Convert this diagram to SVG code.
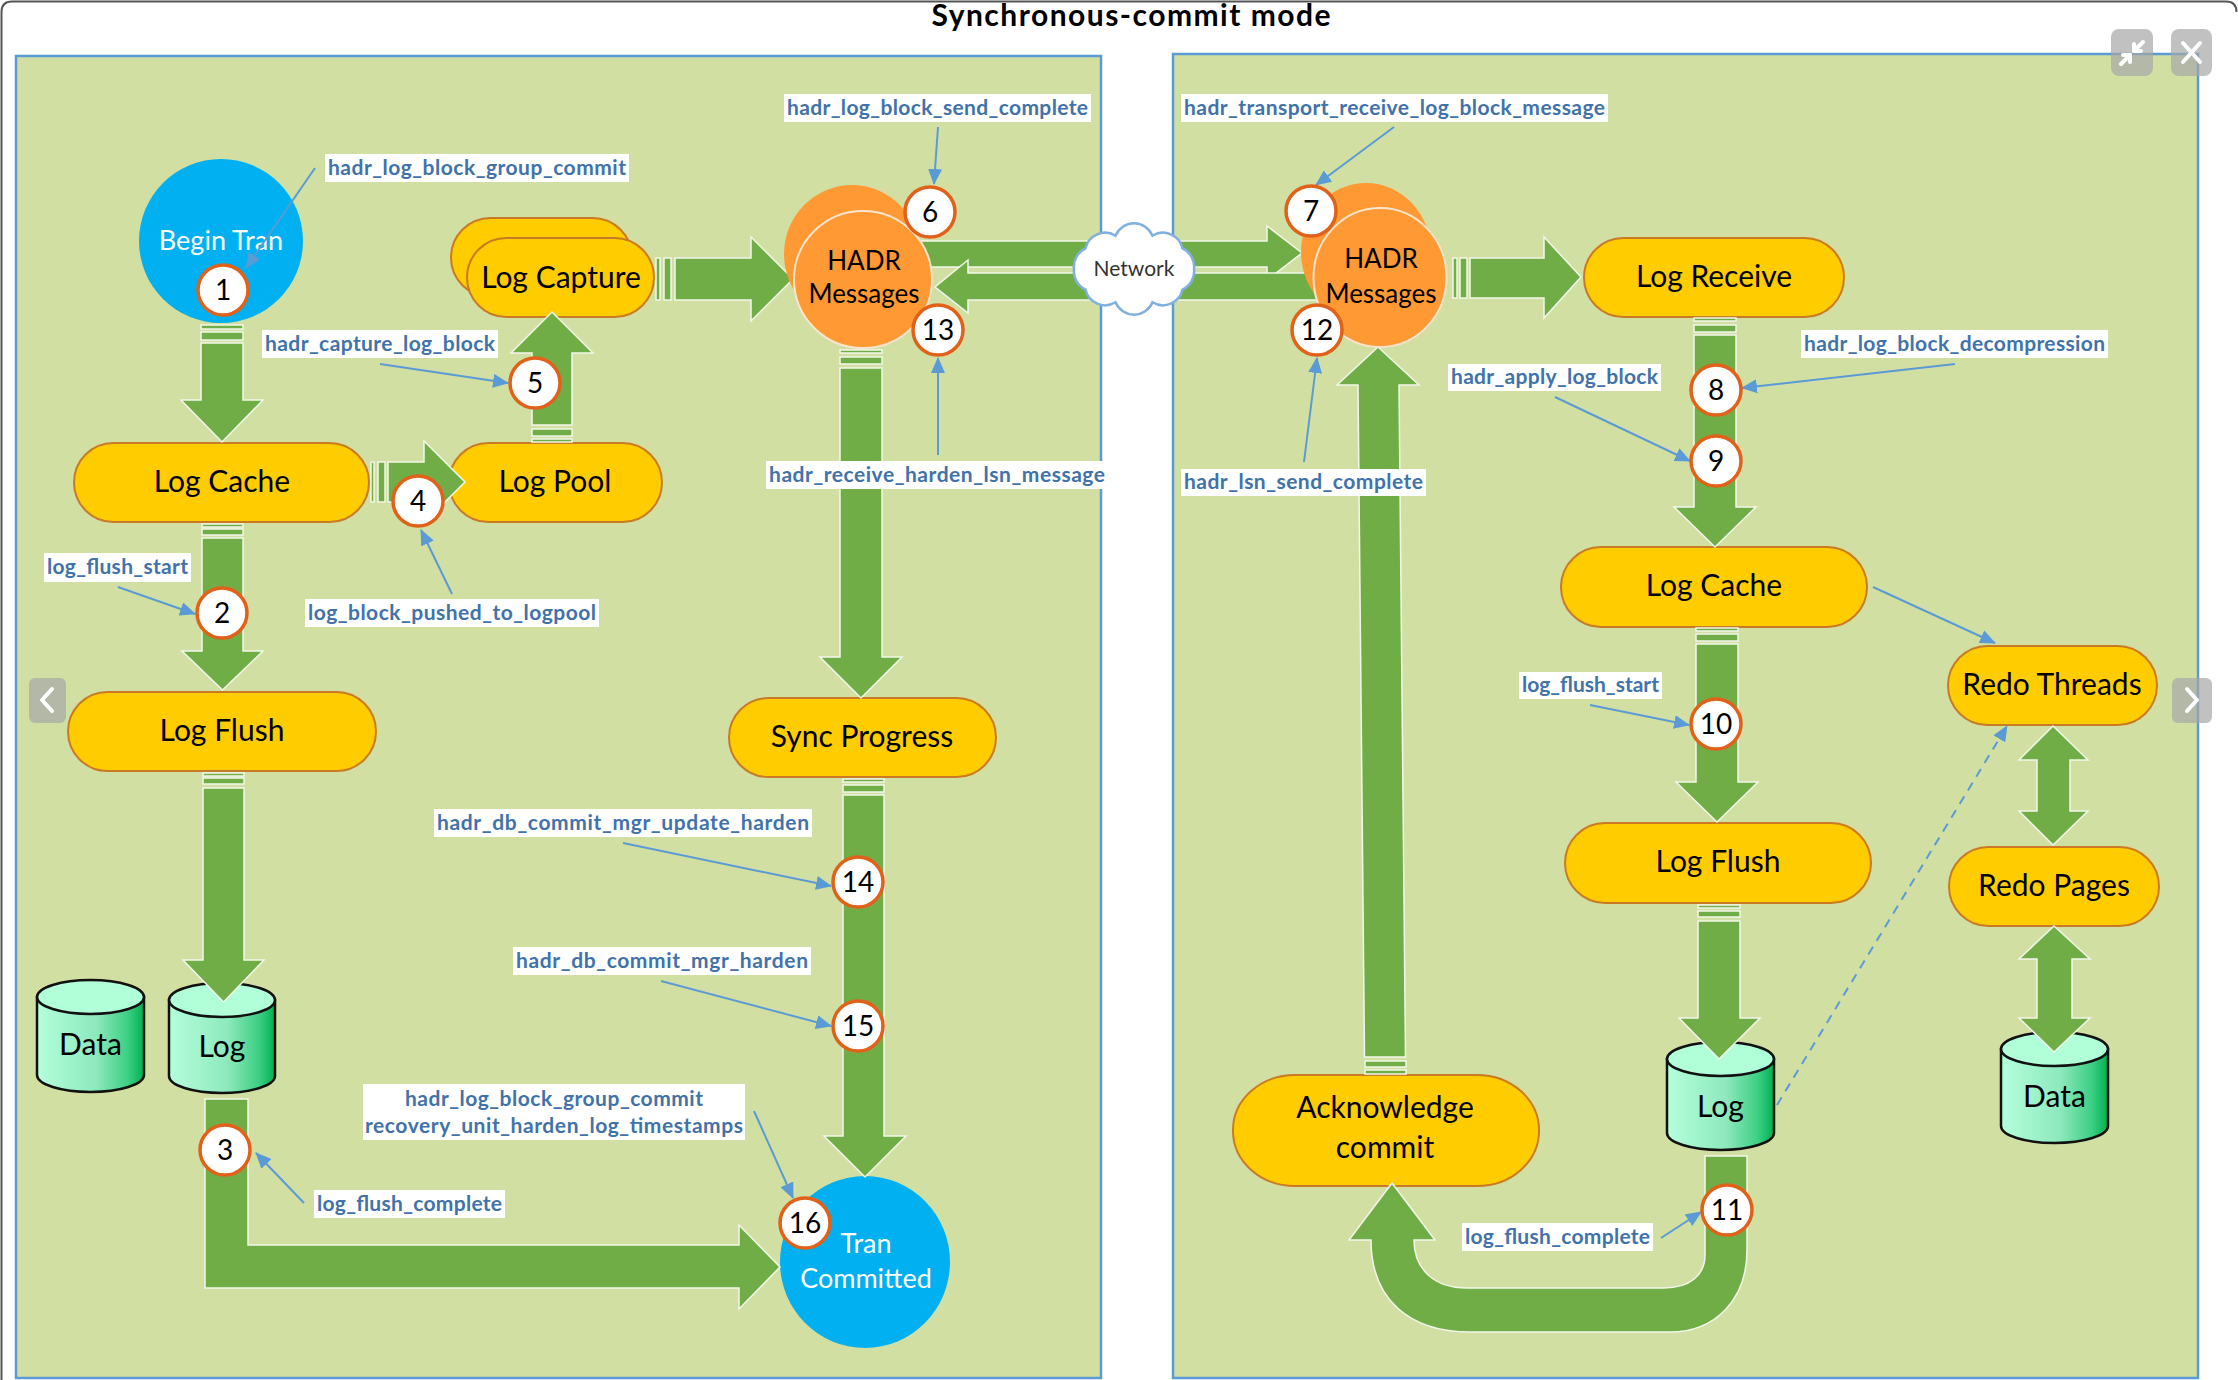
<svg xmlns="http://www.w3.org/2000/svg" width="2238" height="1380" viewBox="0 0 2238 1380">
<defs>
<style>
.panel{fill:#d2dfa3;stroke:#5b9bd5;stroke-width:2.5}
.stad{fill:#ffcc00;stroke:#c97a22;stroke-width:2}
.nt{font-family:Lato,"Liberation Sans",sans-serif;font-size:30px;fill:#000;text-anchor:middle}
.wt{font-family:Lato,"Liberation Sans",sans-serif;font-size:27px;fill:#fff;text-anchor:middle}
.ht{font-family:Lato,"Liberation Sans",sans-serif;font-size:26px;fill:#000;text-anchor:middle}
.arr{fill:#70ad47;stroke:#f2f7ea;stroke-width:1.5}
.lbox{fill:#fff}
.lbl{font-family:Lato,"Liberation Sans",sans-serif;font-weight:bold;font-size:21px;fill:#4172aa;text-anchor:middle}
.co{stroke:#5b9bd5;stroke-width:2;fill:none;marker-end:url(#ah)}
.bc{fill:#fff;stroke:#e2611a;stroke-width:3.5}
.bt{font-family:Lato,"Liberation Sans",sans-serif;font-size:28px;fill:#000;text-anchor:middle}
.cylb{fill:url(#cylg);stroke:#111;stroke-width:2.5}
.cylt{fill:#b0ffd9;stroke:#111;stroke-width:2.5}
.orb{fill:#ff9933}
.orf{fill:#ff9933;stroke:#fde4cc;stroke-width:2}
.blue{fill:#00b0f0}
.btn{fill:#a6a6a6;opacity:0.7}
.ico{stroke:#fff;stroke-width:4;fill:none;stroke-linecap:round;stroke-linejoin:round}
</style>
<marker id="ah" markerUnits="userSpaceOnUse" markerWidth="16" markerHeight="14" refX="15" refY="7" orient="auto">
<path d="M0,0 L16,7 L0,14 Z" fill="#5b9bd5"/>
</marker>
<linearGradient id="cylg" x1="0" y1="0" x2="1" y2="0">
<stop offset="0" stop-color="#b4ffdc"/>
<stop offset="0.55" stop-color="#8ee9bd"/>
<stop offset="0.85" stop-color="#3ccf84"/>
<stop offset="1" stop-color="#00b050"/>
</linearGradient>
</defs>

<rect x="0" y="0" width="2238" height="1380" fill="#fff"/>
<path d="M1.5,1380 L1.5,12 Q1.5,1.5 12,1.5 L2226,1.5 Q2236.5,1.5 2236.5,12" fill="none" stroke="#555" stroke-width="2"/>

<text x="1131" y="26" font-family="Lato,'Liberation Sans',sans-serif" font-weight="bold" font-size="30" text-anchor="middle" textLength="399" fill="#000">Synchronous-commit mode</text>

<g id="panels">
<rect class="panel" x="16" y="56" width="1085" height="1322"/>
<rect class="panel" x="1173" y="54" width="1025" height="1324"/>
</g>

<g id="node-begin-tran">
<ellipse class="blue" cx="221" cy="241" rx="82" ry="82"/>
<text class="wt" x="221" y="250">Begin Tran</text>
</g>
<g id="node-log-capture">
<rect class="stad" x="451" y="218" width="181" height="79" rx="39.5"/>
<rect class="stad" x="467" y="238" width="187" height="79" rx="39.5"/>
<text class="nt" x="561" y="288">Log Capture</text>
</g>
<g id="node-log-cache-p">
<rect class="stad" x="74" y="443" width="295" height="79" rx="39.5"/>
<text class="nt" x="222" y="492">Log Cache</text>
</g>
<g id="node-log-pool">
<rect class="stad" x="449" y="443" width="213" height="79" rx="39.5"/>
<text class="nt" x="555" y="492">Log Pool</text>
</g>
<g id="node-log-flush-p">
<rect class="stad" x="68" y="692" width="308" height="79" rx="39.5"/>
<text class="nt" x="222" y="741">Log Flush</text>
</g>
<g id="node-sync-progress">
<rect class="stad" x="729" y="698" width="267" height="79" rx="39.5"/>
<text class="nt" x="862" y="747">Sync Progress</text>
</g>
<g id="node-data-p">
<path class="cylb" d="M37,997 L37,1075 A53.5,17 0 0 0 144,1075 L144,997 Z"/>
<ellipse class="cylt" cx="90.5" cy="997" rx="53.5" ry="17"/>
<text class="nt" x="90.5" y="1055">Data</text>
</g>
<g id="node-log-p">
<path class="cylb" d="M169,1000 L169,1076 A53,17 0 0 0 275,1076 L275,1000 Z"/>
<ellipse class="cylt" cx="222" cy="1000" rx="53" ry="17"/>
<text class="nt" x="222" y="1057">Log</text>
</g>
<g id="node-tran-committed">
<ellipse class="blue" cx="865" cy="1262" rx="85" ry="86"/>
<text class="wt" x="866" y="1253">Tran</text>
<text class="wt" x="866" y="1288">Committed</text>
</g>

<g id="node-log-receive">
<rect class="stad" x="1584" y="238" width="260" height="79" rx="39.5"/>
<text class="nt" x="1714" y="287">Log Receive</text>
</g>
<g id="node-log-cache-s">
<rect class="stad" x="1561" y="547" width="306" height="80" rx="40"/>
<text class="nt" x="1714" y="596">Log Cache</text>
</g>
<g id="node-log-flush-s">
<rect class="stad" x="1565" y="823" width="306" height="80" rx="40"/>
<text class="nt" x="1718" y="872">Log Flush</text>
</g>
<g id="node-redo-threads">
<rect class="stad" x="1948" y="646" width="209" height="79" rx="39.5"/>
<text class="nt" x="2052" y="695">Redo Threads</text>
</g>
<g id="node-redo-pages">
<rect class="stad" x="1949" y="847" width="210" height="79" rx="39.5"/>
<text class="nt" x="2054" y="896">Redo Pages</text>
</g>
<g id="node-log-s">
<path class="cylb" d="M1667,1059 L1667,1133 A53.5,17 0 0 0 1774,1133 L1774,1059 Z"/>
<ellipse class="cylt" cx="1720.5" cy="1059" rx="53.5" ry="17"/>
<text class="nt" x="1720.5" y="1117">Log</text>
</g>
<g id="node-data-s">
<path class="cylb" d="M2001,1049 L2001,1126 A53.5,17 0 0 0 2108,1126 L2108,1049 Z"/>
<ellipse class="cylt" cx="2054.5" cy="1049" rx="53.5" ry="17"/>
<text class="nt" x="2054.5" y="1107">Data</text>
</g>
<g id="node-ack-commit">
<rect class="stad" x="1233" y="1075" width="306" height="111" rx="62" ry="55"/>
<text class="nt" x="1385" y="1118">Acknowledge</text>
<text class="nt" x="1385" y="1158">commit</text>
</g>

<g id="connectors">
<!-- Begin Tran -> Log Cache -->
<rect class="arr" x="201" y="325" width="42" height="4"/>
<rect class="arr" x="201" y="332" width="42" height="8"/>
<polygon class="arr" points="201,343 243,343 243,400 263,400 222,442 181,400 201,400"/>
<!-- Log Cache -> Log Flush -->
<rect class="arr" x="202" y="524" width="41" height="3"/>
<rect class="arr" x="202" y="529" width="41" height="6"/>
<polygon class="arr" points="202,538 243,538 243,651 263,651 222.5,690 182,651 202,651"/>
<!-- Log Flush -> Log -->
<rect class="arr" x="203" y="773" width="41" height="3"/>
<rect class="arr" x="203" y="778" width="41" height="6"/>
<polygon class="arr" points="203,788 244,788 244,960 264,960 223.5,1002 183,960 203,960"/>
<!-- Log -> Tran Committed -->
<polygon class="arr" points="205,1099 248,1099 248,1245 739,1245 739,1225 780,1267 739,1309 739,1288 205,1288"/>
<!-- Log Cache -> Log Pool -->
<rect class="arr" x="371" y="462" width="3" height="40"/>
<rect class="arr" x="378" y="462" width="7" height="40"/>
<polygon class="arr" points="388,462 424,462 424,441 465,482 424,523 424,502 388,502"/>
<!-- Log Pool -> Log Capture -->
<rect class="arr" x="532" y="439" width="40" height="3"/>
<rect class="arr" x="532" y="429" width="40" height="7"/>
<polygon class="arr" points="532,425 572,425 572,353 593,353 552,312 511,353 532,353"/>
<!-- Log Capture -> HADR -->
<rect class="arr" x="656" y="258" width="4" height="42"/>
<rect class="arr" x="664" y="258" width="7" height="42"/>
<polygon class="arr" points="675,258 751,258 751,237 793,279 751,321 751,300 675,300"/>
<!-- HADR -> Sync Progress -->
<rect class="arr" x="840" y="350" width="42" height="3"/>
<rect class="arr" x="840" y="357" width="42" height="7"/>
<polygon class="arr" points="840,368 882,368 882,657 902,657 861,698 820,657 840,657"/>
<!-- Sync Progress -> Tran Committed -->
<rect class="arr" x="843" y="779" width="41" height="3"/>
<rect class="arr" x="843" y="785" width="41" height="7"/>
<polygon class="arr" points="843,795 884,795 884,1136 906,1136 865,1177 824,1136 843,1136"/>
<!-- Network arrows -->
<polygon class="arr" points="900,241 1267,241 1267,226 1302,253 1267,280 1267,267 900,267"/>
<polygon class="arr" points="1330,273 968,273 968,260 935,287 968,313 968,300 1330,300"/>
<!-- HADR -> Log Receive -->
<rect class="arr" x="1453" y="258" width="4" height="40"/>
<rect class="arr" x="1460" y="258" width="7" height="40"/>
<polygon class="arr" points="1470,258 1544,258 1544,237 1581,277 1544,318 1544,298 1470,298"/>
<!-- Log Receive -> Log Cache -->
<rect class="arr" x="1694" y="318" width="42" height="3"/>
<rect class="arr" x="1694" y="325" width="42" height="7"/>
<polygon class="arr" points="1694,335 1736,335 1736,507 1756,507 1715,547 1674,507 1694,507"/>
<!-- Log Cache -> Log Flush -->
<rect class="arr" x="1696" y="628" width="42" height="3"/>
<rect class="arr" x="1696" y="634" width="42" height="7"/>
<polygon class="arr" points="1696,644 1738,644 1738,782 1758,782 1717,822 1676,782 1696,782"/>
<!-- Log Flush -> Log -->
<rect class="arr" x="1698" y="905" width="42" height="3"/>
<rect class="arr" x="1698" y="911" width="42" height="6"/>
<polygon class="arr" points="1698,921 1740,921 1740,1018 1760,1018 1719,1059 1679,1018 1698,1018"/>
<!-- Log -> Acknowledge commit (U) -->
<path class="arr" d="M1705,1156 L1747,1156 L1747,1250 C1747,1300 1715,1332 1670,1332 L1470,1332 C1410,1332 1371,1300 1371,1240 L1349,1240 L1392,1183 L1435,1240 L1414,1240 C1414,1270 1435,1288 1467,1288 L1664,1288 C1690,1288 1705,1275 1705,1255 Z"/>
<!-- Acknowledge commit -> HADR -->
<rect class="arr" x="1365" y="1070" width="41" height="4"/>
<rect class="arr" x="1365" y="1061" width="41" height="6"/>
<polygon class="arr" points="1364.5,1057 1405.5,1057 1399,385 1419,385 1378,347 1337,385 1358,385"/>
<!-- Redo double arrows -->
<polygon class="arr" points="2053,726 2088,760 2070,760 2070,811 2088,811 2053,845 2019,811 2037,811 2037,760 2019,760"/>
<polygon class="arr" points="2054,926 2090,959 2072,959 2072,1018 2090,1018 2054,1052 2019,1018 2037,1018 2037,959 2019,959"/>
<!-- thin callout connectors -->
<line class="co" x1="1873" y1="587" x2="1995" y2="643"/>
<line class="co" x1="1777" y1="1105" x2="2007" y2="726" stroke-dasharray="9 7"/>
<line class="co" x1="315" y1="168" x2="246" y2="268"/>
<line class="co" x1="938" y1="127" x2="934" y2="184"/>
<line class="co" x1="380" y1="364" x2="508" y2="383"/>
<line class="co" x1="938" y1="455" x2="938" y2="358"/>
<line class="co" x1="118" y1="587" x2="195" y2="614"/>
<line class="co" x1="452" y1="594" x2="421" y2="530"/>
<line class="co" x1="623" y1="843" x2="831" y2="886"/>
<line class="co" x1="661" y1="981" x2="831" y2="1026"/>
<line class="co" x1="754" y1="1111" x2="793" y2="1198"/>
<line class="co" x1="304" y1="1203" x2="256" y2="1153"/>
<line class="co" x1="1394" y1="127" x2="1316" y2="185"/>
<line class="co" x1="1304" y1="462" x2="1317" y2="358"/>
<line class="co" x1="1955" y1="364" x2="1742" y2="388"/>
<line class="co" x1="1555" y1="397" x2="1690" y2="461"/>
<line class="co" x1="1590" y1="705" x2="1689" y2="725"/>
<line class="co" x1="1661" y1="1238" x2="1701" y2="1212"/>
</g>

<g id="node-hadr-p">
<ellipse class="orb" cx="852" cy="254" rx="68" ry="69"/>
<ellipse class="orf" cx="863" cy="279.5" rx="69" ry="68.5"/>
<text class="ht" x="864" y="270">HADR</text>
<text class="ht" x="864" y="303">Messages</text>
</g>
<g id="node-hadr-s">
<ellipse class="orb" cx="1366" cy="252" rx="65" ry="69"/>
<ellipse class="orf" cx="1380" cy="277.5" rx="66.5" ry="69.5"/>
<text class="ht" x="1381" y="268">HADR</text>
<text class="ht" x="1381" y="303">Messages</text>
</g>
<g id="node-network">
<path d="M1194,269 A20,20 0 0 1 1182.5,289.6 A20,20 0 0 1 1152.5,302.3 A20,20 0 0 1 1115.5,302.3 A20,20 0 0 1 1085.5,289.6 A20,20 0 0 1 1074,269 A20,20 0 0 1 1085.5,248.4 A20,20 0 0 1 1115.5,235.7 A20,20 0 0 1 1152.5,235.7 A20,20 0 0 1 1182.5,248.4 A20,20 0 0 1 1194,269 Z" fill="#fff" stroke="#7fb0e0" stroke-width="2.5"/>
<text x="1134" y="276" font-family="Lato,'Liberation Sans',sans-serif" font-size="21" text-anchor="middle" fill="#333">Network</text>
</g>

<g id="badges">
<g id="badge-1"><circle class="bc" cx="223" cy="290" r="25"/><text class="bt" x="223" y="300">1</text></g>
<g id="badge-2"><circle class="bc" cx="222" cy="613" r="25"/><text class="bt" x="222" y="623">2</text></g>
<g id="badge-3"><circle class="bc" cx="225" cy="1150" r="25"/><text class="bt" x="225" y="1160">3</text></g>
<g id="badge-4"><circle class="bc" cx="418" cy="501" r="25"/><text class="bt" x="418" y="511">4</text></g>
<g id="badge-5"><circle class="bc" cx="535" cy="383" r="25"/><text class="bt" x="535" y="393">5</text></g>
<g id="badge-6"><circle class="bc" cx="930" cy="212" r="25"/><text class="bt" x="930" y="222">6</text></g>
<g id="badge-7"><circle class="bc" cx="1311" cy="211" r="25"/><text class="bt" x="1311" y="221">7</text></g>
<g id="badge-8"><circle class="bc" cx="1716" cy="390" r="25"/><text class="bt" x="1716" y="400">8</text></g>
<g id="badge-9"><circle class="bc" cx="1716" cy="461" r="25"/><text class="bt" x="1716" y="471">9</text></g>
<g id="badge-10"><circle class="bc" cx="1716" cy="724" r="25"/><text class="bt" x="1716" y="734">10</text></g>
<g id="badge-11"><circle class="bc" cx="1727" cy="1210" r="25"/><text class="bt" x="1727" y="1220">11</text></g>
<g id="badge-12"><circle class="bc" cx="1317" cy="330" r="25"/><text class="bt" x="1317" y="340">12</text></g>
<g id="badge-13"><circle class="bc" cx="938" cy="330" r="25"/><text class="bt" x="938" y="340">13</text></g>
<g id="badge-14"><circle class="bc" cx="858" cy="882" r="25"/><text class="bt" x="858" y="892">14</text></g>
<g id="badge-15"><circle class="bc" cx="858" cy="1026" r="25"/><text class="bt" x="858" y="1036">15</text></g>
<g id="badge-16"><circle class="bc" cx="805" cy="1223" r="25"/><text class="bt" x="805" y="1233">16</text></g>
</g>

<g id="labels">
<g id="label-1"><rect class="lbox" x="325" y="154" width="304" height="28"/><text class="lbl" x="477" y="175" textLength="298">hadr_log_block_group_commit</text></g>
<g id="label-2"><rect class="lbox" x="784" y="94" width="307" height="28"/><text class="lbl" x="937.5" y="115" textLength="301">hadr_log_block_send_complete</text></g>
<g id="label-3"><rect class="lbox" x="262" y="330" width="236" height="28"/><text class="lbl" x="380" y="351" textLength="230">hadr_capture_log_block</text></g>
<g id="label-4"><rect class="lbox" x="766" y="461" width="342" height="28"/><text class="lbl" x="937" y="482" textLength="336">hadr_receive_harden_lsn_message</text></g>
<g id="label-5"><rect class="lbox" x="44" y="553" width="147" height="29"/><text class="lbl" x="117.5" y="574" textLength="141">log_flush_start</text></g>
<g id="label-6"><rect class="lbox" x="305" y="599" width="294" height="28"/><text class="lbl" x="452" y="620" textLength="288">log_block_pushed_to_logpool</text></g>
<g id="label-7"><rect class="lbox" x="434" y="809" width="378" height="28"/><text class="lbl" x="623" y="830" textLength="372">hadr_db_commit_mgr_update_harden</text></g>
<g id="label-8"><rect class="lbox" x="513" y="947" width="298" height="28"/><text class="lbl" x="662" y="968" textLength="292">hadr_db_commit_mgr_harden</text></g>
<g id="label-9"><rect class="lbox" x="363" y="1084" width="382" height="56"/><text class="lbl" x="554" y="1106" textLength="298">hadr_log_block_group_commit</text><text class="lbl" x="554" y="1133" textLength="378">recovery_unit_harden_log_timestamps</text></g>
<g id="label-10"><rect class="lbox" x="314" y="1190" width="191" height="28"/><text class="lbl" x="409.5" y="1211" textLength="185">log_flush_complete</text></g>
<g id="label-11"><rect class="lbox" x="1181" y="94" width="427" height="28"/><text class="lbl" x="1394.5" y="115" textLength="421">hadr_transport_receive_log_block_message</text></g>
<g id="label-12"><rect class="lbox" x="1181" y="469" width="245" height="27"/><text class="lbl" x="1303.5" y="489" textLength="239">hadr_lsn_send_complete</text></g>
<g id="label-13"><rect class="lbox" x="1801" y="330" width="307" height="28"/><text class="lbl" x="1954.5" y="351" textLength="301">hadr_log_block_decompression</text></g>
<g id="label-14"><rect class="lbox" x="1448" y="364" width="213" height="27"/><text class="lbl" x="1554.5" y="384" textLength="207">hadr_apply_log_block</text></g>
<g id="label-15"><rect class="lbox" x="1519" y="672" width="143" height="27"/><text class="lbl" x="1590.5" y="692" textLength="137">log_flush_start</text></g>
<g id="label-16"><rect class="lbox" x="1462" y="1223" width="191" height="28"/><text class="lbl" x="1557.5" y="1244" textLength="185">log_flush_complete</text></g>
</g>

<g id="window-controls">
<rect class="btn" x="2111" y="29" width="42" height="47" rx="8"/>
<polyline class="ico" points="2143,42 2134,51"/>
<polyline class="ico" points="2134,44 2134,51 2141,51"/>
<polyline class="ico" points="2121,64 2130,55"/>
<polyline class="ico" points="2123,55 2130,55 2130,62"/>
<rect class="btn" x="2171" y="29" width="41" height="47" rx="8"/>
<line class="ico" x1="2183" y1="43" x2="2200" y2="62" stroke-width="5"/>
<line class="ico" x1="2200" y1="43" x2="2183" y2="62" stroke-width="5"/>
<rect class="btn" x="29" y="678" width="37" height="45" rx="6" opacity="0.45"/>
<polyline class="ico" points="52,689 42,700 52,711"/>
<rect class="btn" x="2172" y="678" width="40" height="45" rx="6" opacity="0.45"/>
<polyline class="ico" points="2187,689 2197,700 2187,711"/>
</g>
</svg>
